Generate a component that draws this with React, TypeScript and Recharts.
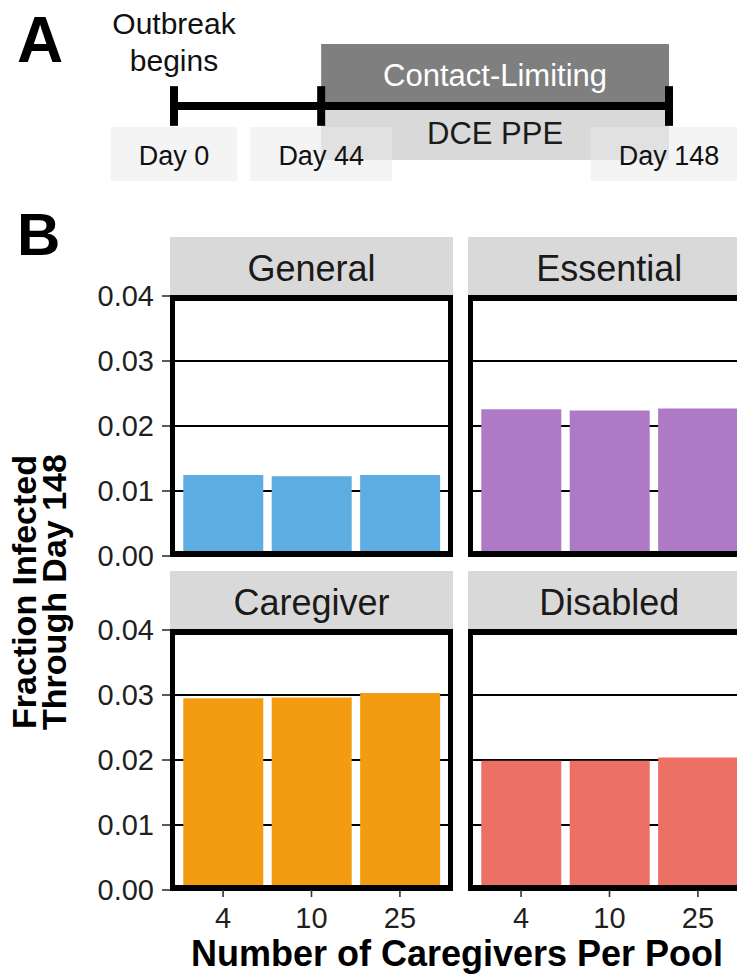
import React from 'react';
import {
  BarChart,
  Bar,
  XAxis,
  YAxis,
  CartesianGrid,
  ComposedChart,
  ReferenceArea,
  ReferenceLine,
  Scatter,
} from 'recharts';

const FONT = '"Liberation Sans", Arial, Helvetica, sans-serif';

// --- timeline (A) ---
const EVENT_DAYS = [0, 44, 148];
const EVENT_LABELS = ['Day 0', 'Day 44', 'Day 148'];
const OUTBREAK_NOTE = ['Outbreak', 'begins'];
const INTERVENTION_START = 44;
const INTERVENTION_END = 148;
const INTERVENTIONS = ['Contact-Limiting', 'DCE PPE'];

// --- fraction infected by group (B) ---
const POOL_SIZES = ['4', '10', '25'];
const GROUPS = ['General', 'Essential', 'Caregiver', 'Disabled'];
const GENERAL_FRAC = [0.01247, 0.01227, 0.01247];
const ESSENTIAL_FRAC = [0.02258, 0.02237, 0.02268];
const CAREGIVER_FRAC = [0.0295, 0.0296, 0.0303];
const DISABLED_FRAC = [0.0199, 0.0199, 0.0204];
const GROUP_COLORS = ['#5DADE2', '#AF7AC5', '#F39C12', '#EC7063'];
const Y_TICKS = [0, 0.01, 0.02, 0.03, 0.04];

const timelineData = EVENT_DAYS.map((day, i) => ({
  day,
  row: 0,
  label: EVENT_LABELS[i],
  note: i === 0 ? OUTBREAK_NOTE : null,
}));

let measureCtx: CanvasRenderingContext2D | null = null;
const textWidth = (s: string, size: number) => {
  if (!measureCtx) measureCtx = document.createElement('canvas').getContext('2d');
  if (!measureCtx) return s.length * size * 0.55;
  measureCtx.font = `${size}px ${FONT}`;
  return measureCtx.measureText(s).width;
};

// tick label box under each event, plus the note above day 0
const EventMark = (props: any) => {
  const { cx, cy, payload } = props;
  const w = textWidth(payload.label, 27) + 56;
  return (
    <g>
      <rect x={cx - w / 2} y={cy + 21} width={w} height={54} fill="#eaeaea" fillOpacity={0.5} />
      <text x={cx} y={cy + 59} textAnchor="middle" fontSize={27} fill="#111">
        {payload.label}
      </text>
      {payload.note &&
        payload.note.map((line: string, j: number) => (
          <text key={j} x={cx} y={cy - 72 + j * 37} textAnchor="middle" fontSize={30} fill="#111">
            {line}
          </text>
        ))}
    </g>
  );
};

function Timeline() {
  return (
    <ComposedChart
      width={737}
      height={200}
      data={timelineData}
      margin={{ top: 44, right: 68, bottom: 32, left: 174 }}
    >
      <XAxis dataKey="day" type="number" domain={[0, 148]} hide />
      <YAxis type="number" domain={[-1, 1]} hide />
      <ReferenceArea
        x1={INTERVENTION_START}
        x2={INTERVENTION_END}
        y1={0}
        y2={1}
        fill="#7f7f7f"
        fillOpacity={1}
        stroke="none"
        label={{ value: INTERVENTIONS[0], position: 'center', fill: '#fff', fontSize: 31 }}
      />
      <ReferenceArea
        x1={INTERVENTION_START}
        x2={INTERVENTION_END}
        y1={-0.87}
        y2={0}
        fill="#d9d9d9"
        fillOpacity={1}
        stroke="none"
        label={{ value: INTERVENTIONS[1], position: 'center', fill: '#1a1a1a', fontSize: 31 }}
      />
      <ReferenceLine
        segment={[{ x: EVENT_DAYS[0], y: 0 }, { x: EVENT_DAYS[EVENT_DAYS.length - 1], y: 0 }]}
        stroke="#000"
        strokeWidth={8}
      />
      {EVENT_DAYS.map((d) => (
        <ReferenceLine
          key={d}
          segment={[{ x: d, y: -0.32 }, { x: d, y: 0.32 }]}
          stroke="#000"
          strokeWidth={8}
        />
      ))}
      <Scatter dataKey="row" shape={(p: any) => <EventMark {...p} />} isAnimationActive={false} />
    </ComposedChart>
  );
}

const PLOT_W = 283;
const PLOT_H = 260;
const STRIP_H = 58.5;

function Facet({ name, values, color, left, top, showY, showX }: any) {
  const data = POOL_SIZES.map((pool, i) => ({ pool, frac: values[i] }));
  const yw = showY ? 110 : 0;
  const mt = 16;
  const mb = showX ? 0 : 16;
  const xh = showX ? 50 : 0;
  return (
    <>
      <div
        style={{
          position: 'absolute',
          left,
          top: top - STRIP_H,
          width: PLOT_W,
          height: STRIP_H,
          boxSizing: 'border-box',
          paddingTop: 3,
          background: '#d9d9d9',
          color: '#1a1a1a',
          fontSize: 36,
          lineHeight: `${STRIP_H}px`,
          textAlign: 'center',
        }}
      >
        {name}
      </div>
      <div style={{ position: 'absolute', left: left - yw, top: top - mt }}>
        <BarChart
          width={yw + PLOT_W}
          height={mt + PLOT_H + xh + mb}
          data={data}
          margin={{ top: mt, right: 0, bottom: mb, left: 0 }}
          barCategoryGap="5%"
        >
          <CartesianGrid vertical={false} stroke="#000" strokeWidth={2} />
          <XAxis
            dataKey="pool"
            hide={!showX}
            height={xh}
            padding={{ left: 8.85, right: 8.85 }}
            axisLine={false}
            tickLine={{ stroke: '#333', strokeWidth: 1.6 }}
            tickSize={7}
            tickMargin={10}
            interval={0}
            tick={{ fontSize: 29, fill: '#1f1f1f' }}
          />
          <YAxis
            hide={!showY}
            width={yw}
            domain={[0, 0.04]}
            ticks={Y_TICKS}
            interval={0}
            tickFormatter={(v: number) => v.toFixed(2)}
            axisLine={false}
            tickLine={{ stroke: '#333', strokeWidth: 1.6 }}
            tickSize={8}
            tickMargin={8}
            tick={{ fontSize: 29, fill: '#1f1f1f' }}
          />
          <Bar dataKey="frac" fill={color} isAnimationActive={false} />
        </BarChart>
      </div>
      <div
        style={{
          position: 'absolute',
          left,
          top,
          width: PLOT_W,
          height: PLOT_H,
          border: '5.5px solid #000',
          boxSizing: 'border-box',
          pointerEvents: 'none',
        }}
      />
    </>
  );
}

const GROUP_VALUES = [GENERAL_FRAC, ESSENTIAL_FRAC, CAREGIVER_FRAC, DISABLED_FRAC];
const COL_LEFT = [170, 467.7];
const ROW_TOP = [295.5, 629.5];

export default function App() {
  return (
    <div
      style={{
        position: 'absolute',
        left: 0,
        top: 0,
        width: 737,
        height: 974,
        overflow: 'hidden',
        background: '#fff',
        fontFamily: FONT,
      }}
    >
      <div style={{ position: 'absolute', left: 0, top: 0 }}>
        <Timeline />
      </div>

      {GROUPS.map((g, i) => (
        <Facet
          key={g}
          name={g}
          values={GROUP_VALUES[i]}
          color={GROUP_COLORS[i]}
          left={COL_LEFT[i % 2]}
          top={ROW_TOP[Math.floor(i / 2)]}
          showY={i % 2 === 0}
          showX={i >= 2}
        />
      ))}

      <svg
        width={737}
        height={974}
        style={{ position: 'absolute', left: 0, top: 0, pointerEvents: 'none' }}
        fontFamily={FONT}
      >
        <text x={17} y={62} fontSize={64} fontWeight="bold" fill="#000">A</text>
        <text x={17} y={255} fontSize={60} fontWeight="bold" fill="#000">B</text>
        <text x={457} y={966} textAnchor="middle" fontSize={36} fontWeight="bold" fill="#000">
          Number of Caregivers Per Pool
        </text>
        <g transform="rotate(-90)" fontSize={34} fontWeight="bold" fill="#000" textAnchor="middle">
          <text x={-592} y={36}>Fraction Infected</text>
          <text x={-592} y={66}>Through Day 148</text>
        </g>
      </svg>
    </div>
  );
}
